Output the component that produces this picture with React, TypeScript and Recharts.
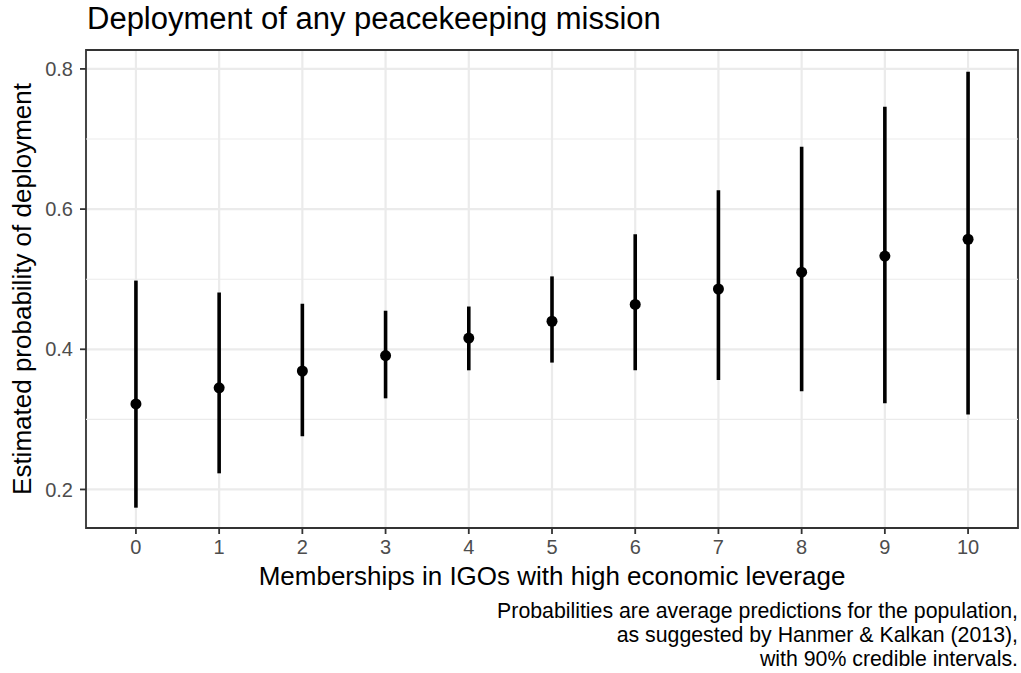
import { ComposedChart, Scatter, ErrorBar, XAxis, YAxis, CartesianGrid, ReferenceLine, ReferenceArea } from "recharts";

const memberships = [0, 1, 2, 3, 4, 5, 6, 7, 8, 9, 10];
const estimate = [0.322, 0.345, 0.369, 0.391, 0.416, 0.44, 0.464, 0.486, 0.51, 0.533, 0.557];
const lower = [0.174, 0.223, 0.276, 0.33, 0.37, 0.381, 0.37, 0.356, 0.34, 0.323, 0.307];
const upper = [0.498, 0.481, 0.465, 0.455, 0.461, 0.504, 0.564, 0.627, 0.689, 0.746, 0.796];
const yTicks = [0.2, 0.4, 0.6, 0.8];
const yMinor = [0.3, 0.5, 0.7];

const data = memberships.map((m, i) => ({
  m,
  est: estimate[i],
  err: [estimate[i] - lower[i], upper[i] - estimate[i]],
}));

const font = "'Liberation Sans', Arial, sans-serif";
const tickStyle = { fontSize: 20, fill: "#4d4d4d", fontFamily: font };

const Dot = (props: any) => <circle cx={props.cx} cy={props.cy} r={5.5} fill="#000" />;

export default function App() {
  return (
    <div style={{ position: "absolute", left: 0, top: 0, width: 1021, height: 673, background: "#fff", fontFamily: font }}>
      <div style={{ position: "absolute", left: 87, top: 3, fontSize: 31, lineHeight: "31px", color: "#000", whiteSpace: "nowrap" }}>
        Deployment of any peacekeeping mission
      </div>
      <ComposedChart width={1021} height={673} data={data} margin={{ top: 50, right: 3, bottom: 0, left: 0 }}>
        <CartesianGrid stroke="#ebebeb" strokeWidth={2.2} />
        {yMinor.map((v) => (
          <ReferenceLine key={v} y={v} stroke="#ebebeb" strokeWidth={1.1} />
        ))}
        <XAxis
          dataKey="m"
          type="number"
          domain={[-0.6, 10.6]}
          ticks={memberships}
          interval={0}
          height={145}
          tickSize={6}
          tickMargin={6}
          tick={tickStyle}
          axisLine={false}
          tickLine={{ stroke: "#333", strokeWidth: 1.8 }}
          allowDataOverflow
        />
        <YAxis
          type="number"
          domain={[0.145, 0.827]}
          ticks={yTicks}
          width={86}
          tickSize={6}
          tickMargin={7}
          tick={tickStyle}
          tickFormatter={(v: number) => v.toFixed(1)}
          axisLine={false}
          tickLine={{ stroke: "#333", strokeWidth: 1.8 }}
          allowDataOverflow
        />
        <Scatter dataKey="est" shape={Dot} isAnimationActive={false}>
          <ErrorBar dataKey="err" direction="y" width={0} stroke="#000" strokeWidth={3.6} isAnimationActive={false} />
        </Scatter>
        <ReferenceArea x1={-0.6} x2={10.6} y1={0.145} y2={0.827} fill="none" stroke="#333" strokeWidth={1.8} ifOverflow="visible" />
      </ComposedChart>
      <div
        style={{
          position: "absolute",
          left: 22,
          top: 289,
          transform: "translate(-50%, -50%) rotate(-90deg)",
          fontSize: 26,
          lineHeight: "26px",
          whiteSpace: "nowrap",
          color: "#000",
        }}
      >
        Estimated probability of deployment
      </div>
      <div style={{ position: "absolute", left: 86, width: 932, top: 563, textAlign: "center", fontSize: 26, lineHeight: "26px", color: "#000", whiteSpace: "nowrap" }}>
        Memberships in IGOs with high economic leverage
      </div>
      <div style={{ position: "absolute", right: 3, top: 599, textAlign: "right", fontSize: 21.3, lineHeight: "24px", color: "#000", whiteSpace: "nowrap" }}>
        Probabilities are average predictions for the population,
        <br />
        as suggested by Hanmer &amp; Kalkan (2013),
        <br />
        with 90% credible intervals.
      </div>
    </div>
  );
}
